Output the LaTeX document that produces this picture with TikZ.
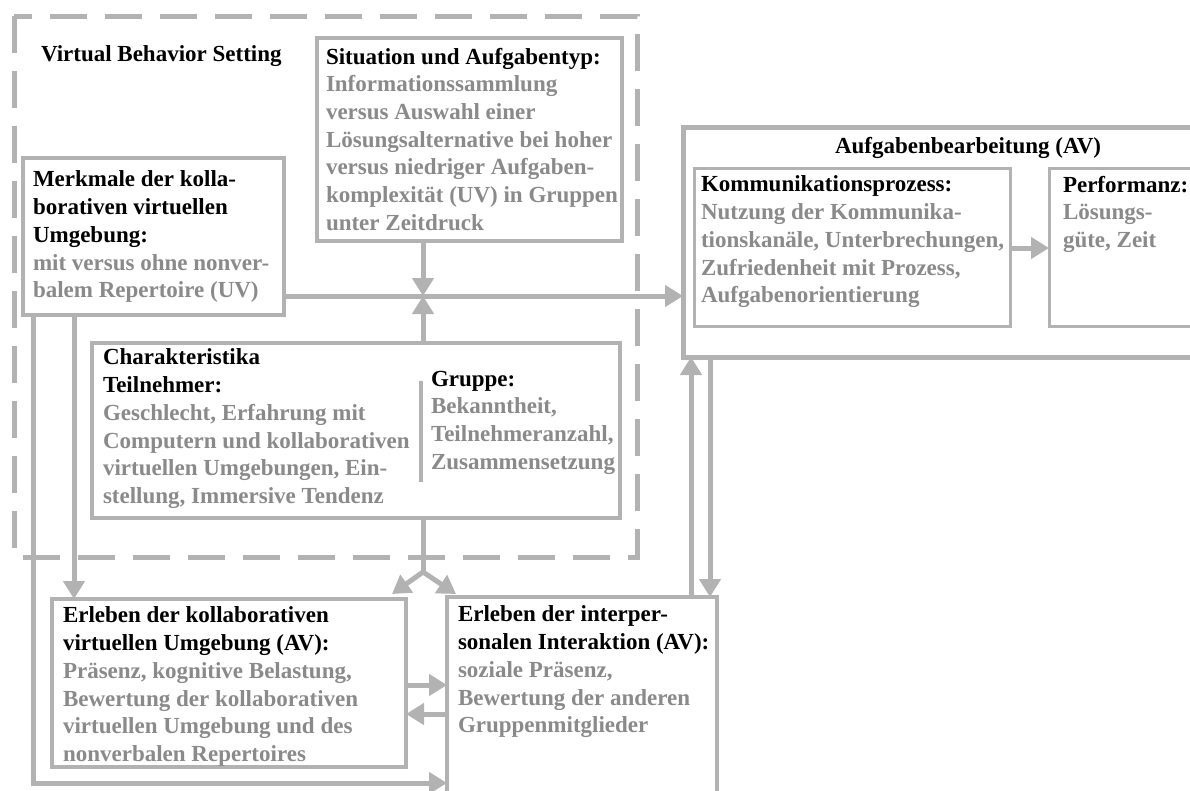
\documentclass[tikz,border=0pt]{standalone}
\usepackage{fontspec}
\setmainfont{Liberation Serif}
\usetikzlibrary{arrows.meta}
\definecolor{ln}{RGB}{178,178,178}
\definecolor{tx}{RGB}{138,138,138}
\begin{document}
\begin{tikzpicture}[x=1pt,y=-1pt,
  every node/.style={font=\fontsize{23}{27.7}\selectfont\bfseries, inner sep=0pt, outer sep=0pt},
  box/.style={draw=ln, line width=4.5pt, rectangle, anchor=north west},
  thinbox/.style={draw=ln, line width=3pt, rectangle, anchor=north west},
  txt/.style={anchor=north west, align=left, text=tx},
  conn/.style={draw=ln, line width=5pt},
  arr/.style={conn, -{Triangle[width=21pt,length=18pt]}},
  dashbox/.style={draw=ln, line width=5pt, dash pattern=on 37pt off 18pt}]
\useasboundingbox (0,0) rectangle (1190,790);
\fill[white] (0,0) rectangle (1190,790);
\clip (0,0) rectangle (1190,790);

% Virtual behavior setting frame
\draw[dashbox] (14,16) rectangle (637,557);
\node[anchor=base west] (vbs) at (41,61) {Virtual Behavior Setting};

% boxes
\node[box, minimum width=305pt, minimum height=203pt] (sit) at (317,38) {};
\node[box, minimum width=261pt, minimum height=157pt] (mer) at (23,158) {};
\node[box, minimum width=528pt, minimum height=175pt] (cha) at (92,343) {};
\node[box, minimum width=354pt, minimum height=168pt] (kol) at (52,599) {};
\node[box, minimum width=270pt, minimum height=220pt] (int) at (447,597) {};
\node[box, line width=5pt, minimum width=540pt, minimum height=230pt] (auf) at (683,127) {};
\node[thinbox, minimum width=316pt, minimum height=158pt] (kom) at (694,168) {};
\node[thinbox, minimum width=180pt, minimum height=158pt] (per) at (1049,168) {};

% texts
\node[txt] (sitT) at (326,48) {\textcolor{black}{Situation und Aufgabentyp:}\\
Informationssammlung\\ versus Auswahl einer\\ Lösungsalternative bei hoher\\
versus niedriger Aufgaben-\\ komplexität (UV) in Gruppen\\ unter Zeitdruck};
\node[txt] (merT) at (33,171) {\textcolor{black}{Merkmale der kolla-}\\
\textcolor{black}{borativen virtuellen}\\ \textcolor{black}{Umgebung:}\\
mit versus ohne nonver-\\ balem Repertoire (UV)};
\node[txt] (chaT) at (103,349) {\textcolor{black}{Charakteristika}\\
\textcolor{black}{Teilnehmer:}\\ Geschlecht, Erfahrung mit\\
Computern und kollaborativen\\ virtuellen Umgebungen, Ein-\\ stellung, Immersive Tendenz};
\node[txt] (gruT) at (431,371) {\textcolor{black}{Gruppe:}\\ Bekanntheit,\\
Teilnehmeranzahl,\\ Zusammensetzung};
\coordinate (sepA) at (421,381);
\coordinate (sepB) at (421,482);
\draw[ln, line width=3.5pt] (sepA) -- (sepB);
\node[txt] (kolT) at (63,607) {\textcolor{black}{Erleben der kollaborativen}\\
\textcolor{black}{virtuellen Umgebung (AV):}\\ Präsenz, kognitive Belastung,\\
Bewertung der kollaborativen\\ virtuellen Umgebung und des\\ nonverbalen Repertoires};
\node[txt] (intT) at (458,606) {\textcolor{black}{Erleben der interper-}\\
\textcolor{black}{sonalen Interaktion (AV):}\\ soziale Präsenz,\\
Bewertung der anderen\\ Gruppenmitglieder};
\node[anchor=base west] (aufT) at (835,153) {Aufgabenbearbeitung (AV)};
\node[txt] (komT) at (701,176) {\textcolor{black}{Kommunikationsprozess:}\\
Nutzung der Kommunika-\\ tionskanäle, Unterbrechungen,\\
Zufriedenheit mit Prozess,\\ Aufgabenorientierung};
\node[txt] (perT) at (1063,176) {\textcolor{black}{Performanz:}\\ Lösungs-\\ güte, Zeit};

% helper coordinates
\coordinate (hy) at (0,296);
\coordinate (xc) at (423,0);
\coordinate (fk) at (423,572);
\coordinate (tipL) at (392,594);
\coordinate (tipR) at (456,594);
\coordinate (xv1) at (74,0);
\coordinate (xv2) at (33,0);
\coordinate (yb) at (0,783);
\coordinate (ya) at (0,685);
\coordinate (yc) at (0,714);
\coordinate (xu) at (691,0);
\coordinate (xd) at (710,0);
\coordinate (yk) at (0,248);

% connectors
\draw[arr] (mer.east |- hy) -- (auf.west |- hy);
\draw[arr] (sit.south -| xc) -- (xc |- hy);
\draw[arr] (cha.north -| xc) -- (xc |- hy);
\draw[conn] (cha.south -| xc) -- (fk);
\draw[arr] (fk) -- (tipL);
\draw[arr] (fk) -- (tipR);
\draw[arr] (mer.south -| xv1) -- (kol.north -| xv1);
\draw[arr] (mer.south -| xv2) |- (int.west |- yb);
\draw[arr] (kol.east |- ya) -- (int.west |- ya);
\draw[arr] (int.west |- yc) -- (kol.east |- yc);
\draw[arr] (int.north -| xu) -- (auf.south -| xu);
\draw[arr] (auf.south -| xd) -- (int.north -| xd);
\draw[arr] (kom.east |- yk) -- (per.west |- yk);
\end{tikzpicture}
\end{document}
